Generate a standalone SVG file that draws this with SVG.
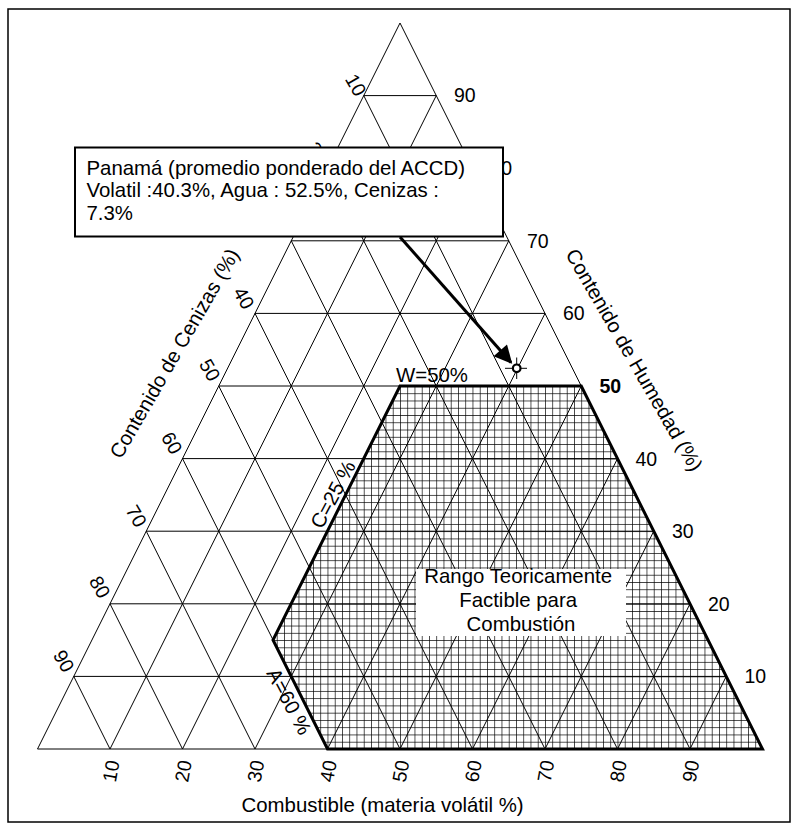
<svg xmlns="http://www.w3.org/2000/svg" width="799" height="832" viewBox="0 0 799 832">
  <style>
    .grid { fill: none; stroke: #000; stroke-width: 1; }
    .thick { fill: none; stroke: #000; stroke-width: 3; stroke-linejoin: miter; }
    .t { font-family: "Liberation Sans", Arial, sans-serif; fill: #000; }
    .tick { font-size: 19.5px; }
    .lbl { font-size: 20.4px; }
  </style>
  <defs>
    <!-- 1 % cross hatching for the feasible area -->
    <pattern id="hatch" patternUnits="userSpaceOnUse" x="37.5" y="23" width="7.25" height="7.26">
      <path d="M0 0 V7.26 M0 0 H7.25" stroke="#000" stroke-width="1.35" fill="none"/>
    </pattern>
    <marker id="arrow" viewBox="0 0 10 10" refX="9" refY="5" markerWidth="7.5" markerHeight="6" orient="auto" markerUnits="strokeWidth">
      <path d="M0 0 L10 5 L0 10 z" fill="#000"/>
    </marker>
  </defs>

  <rect width="799" height="832" fill="#fff"/>
  <!-- frame -->
  <rect x="8" y="9" width="782" height="813" fill="none" stroke="#000" stroke-width="1.5"/>

  <!-- feasible region W<=50, A<=60, C<=25 -->
  <g id="region">
    <path d="M400 386 L581.25 386 L762.5 749 L327.5 749 L273 640 Z" fill="#fff"/>
    <path d="M400 386 L581.25 386 L762.5 749 L327.5 749 L273 640 Z" fill="url(#hatch)"/>
  </g>

  <!-- ternary grid -->
  <g id="ternary-grid" class="grid">
    <path d="M400 23 L37.5 749 L762.5 749 Z"/>
    <!-- water (horizontal) -->
    <path d="M363.75 95.6 H436.25 M327.5 168.2 H472.5 M291.25 240.8 H508.75 M255 313.4 H545 M218.75 386 H581.25 M182.5 458.6 H617.5 M146.25 531.2 H653.75 M110 603.8 H690 M73.75 676.4 H726.25"/>
    <!-- volatile (parallel to left side) -->
    <path d="M110 749 L436.25 95.6 M182.5 749 L472.5 168.2 M255 749 L508.75 240.8 M327.5 749 L545 313.4 M400 749 L581.25 386 M472.5 749 L617.5 458.6 M545 749 L653.75 531.2 M617.5 749 L690 603.8 M690 749 L726.25 676.4"/>
    <!-- ash (parallel to right side) -->
    <path d="M690 749 L363.75 95.6 M617.5 749 L327.5 168.2 M545 749 L291.25 240.8 M472.5 749 L255 313.4 M400 749 L218.75 386 M327.5 749 L182.5 458.6 M255 749 L146.25 531.2 M182.5 749 L110 603.8 M110 749 L73.75 676.4"/>
  </g>

  <!-- outline of the feasible region -->
  <g id="region-outline">
    <path class="thick" d="M400 386 L581.25 386 L762.5 749 L327.5 749 L273 640 Z"/>
  </g>

  <!-- water scale -->
  <g id="water-ticks" class="t tick">
    <text x="454" y="102">90</text>
    <text x="490.5" y="175">80</text>
    <text x="527" y="247.5">70</text>
    <text x="563" y="320">60</text>
    <text x="599.5" y="393" font-weight="bold">50</text>
    <text x="635.5" y="465.5">40</text>
    <text x="672" y="538">30</text>
    <text x="708" y="610.5">20</text>
    <text x="744.5" y="683">10</text>
  </g>

  <!-- ash scale -->
  <g id="ash-ticks" class="t tick" text-anchor="middle">
    <text transform="translate(356 85) rotate(60)" y="7">10</text>
    <text transform="translate(317.5 153) rotate(60)" y="7">20</text>
    <text transform="translate(281 226) rotate(60)" y="7">30</text>
    <text transform="translate(244 298) rotate(60)" y="7">40</text>
    <text transform="translate(210 370) rotate(60)" y="7">50</text>
    <text transform="translate(172 443) rotate(60)" y="7">60</text>
    <text transform="translate(136.5 516) rotate(60)" y="7">70</text>
    <text transform="translate(100 587) rotate(60)" y="7">80</text>
    <text transform="translate(64 661) rotate(60)" y="7">90</text>
  </g>

  <!-- volatile scale -->
  <g id="volatile-ticks" class="t tick" text-anchor="middle">
    <text transform="translate(110.75 771) rotate(-80)" y="7">10</text>
    <text transform="translate(183 771) rotate(-80)" y="7">20</text>
    <text transform="translate(255.5 771) rotate(-80)" y="7">30</text>
    <text transform="translate(328 771) rotate(-80)" y="7">40</text>
    <text transform="translate(400.5 771) rotate(-80)" y="7">50</text>
    <text transform="translate(473 771) rotate(-80)" y="7">60</text>
    <text transform="translate(545.5 771) rotate(-80)" y="7">70</text>
    <text transform="translate(618 771) rotate(-80)" y="7">80</text>
    <text transform="translate(690.5 771) rotate(-80)" y="7">90</text>
  </g>

  <!-- axis titles -->
  <g id="axis-titles" class="t lbl">
    <text x="241.5" y="812">Combustible (materia volátil %)</text>
    <text transform="translate(121 460) rotate(-60)">Contenido de Cenizas (%)</text>
    <text transform="translate(565 254) rotate(60)">Contenido de Humedad (%)</text>
  </g>

  <!-- limit labels -->
  <g id="limit-labels" class="t lbl">
    <text x="396" y="382">W=50%</text>
    <text transform="translate(322 530) rotate(-62)">C=25 %</text>
    <text transform="translate(266 673) rotate(62)">A=60 %</text>
  </g>

  <!-- region caption -->
  <g id="region-caption">
    <rect x="416" y="569" width="210" height="67" fill="#fff"/>
    <text class="t lbl" text-anchor="middle" x="521">
      <tspan x="521" y="583">Rango Teoricamente</tspan>
      <tspan x="521" y="607">Factible para</tspan>
      <tspan x="521" y="631">Combustión</tspan>
    </text>
  </g>

  <!-- Panama data point -->
  <g id="panama-point">
    <path d="M505 368.3 H527 M516.7 357.5 V379" stroke="#000" stroke-width="1" fill="none"/>
    <circle cx="516.7" cy="368.3" r="3.8" fill="#fff" stroke="#000" stroke-width="2.2"/>
  </g>

  <!-- callout -->
  <g id="panama-callout">
    <rect x="75" y="147.5" width="428" height="89" fill="#fff" stroke="#000" stroke-width="2"/>
    <text class="t lbl">
      <tspan x="86.5" y="175">Panamá (promedio ponderado del ACCD)</tspan>
      <tspan x="86.5" y="197">Volatil :40.3%, Agua : 52.5%, Cenizas :</tspan>
      <tspan x="86.5" y="220">7.3%</tspan>
    </text>
  </g>

  <g id="connectors">
    <line x1="400" y1="237" x2="511" y2="362.5" stroke="#000" stroke-width="3" marker-end="url(#arrow)"/>
  </g>
</svg>
